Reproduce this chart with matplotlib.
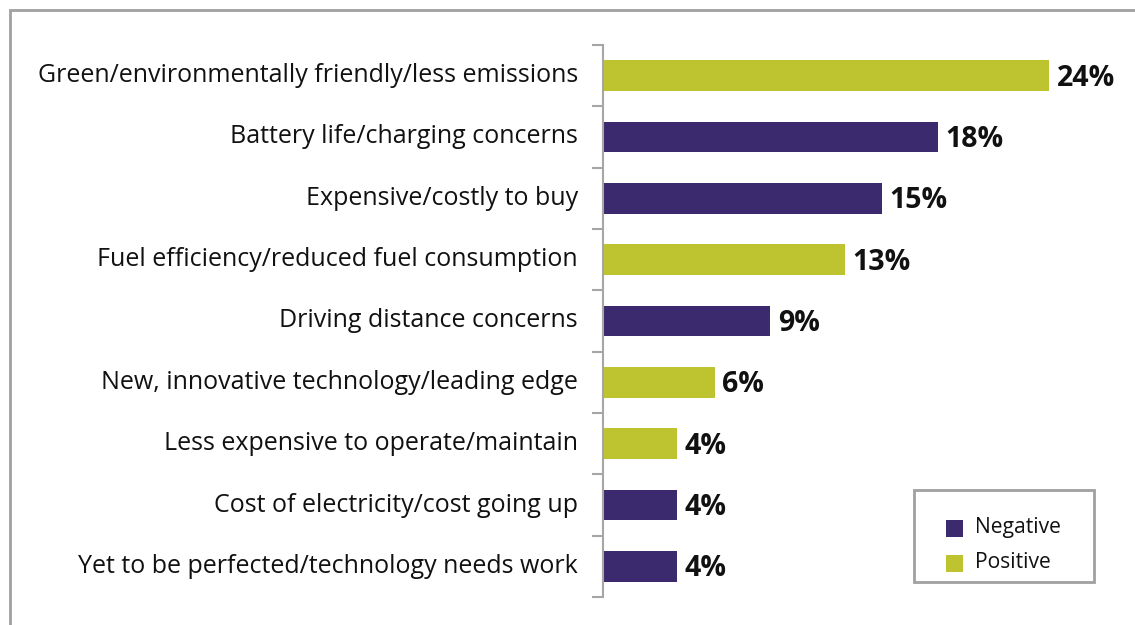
import matplotlib.pyplot as plt
from matplotlib.patches import Rectangle

categories = [
    "Green/environmentally friendly/less emissions",
    "Battery life/charging concerns",
    "Expensive/costly to buy",
    "Fuel efficiency/reduced fuel consumption",
    "Driving distance concerns",
    "New, innovative technology/leading edge",
    "Less expensive to operate/maintain",
    "Cost of electricity/cost going up",
    "Yet to be perfected/technology needs work",
]
values = [24, 18, 15, 13, 9, 6, 4, 4, 4]
sentiment = ["Positive", "Negative", "Negative", "Positive", "Negative",
             "Positive", "Positive", "Negative", "Negative"]
legend_labels = ["Negative", "Positive"]

colors = {"Negative": "#3b2a6d", "Positive": "#bec330"}
W, H = 1135, 625

plt.rcParams['font.family'] = ['Open Sans', 'DejaVu Sans']

fig = plt.figure(figsize=(W / 100, H / 100), dpi=100)
ax = fig.add_axes([603 / W, 1 - 597 / H, 1 - 603 / W, (597 - 45) / H])

n = len(categories)
ypos = list(range(n))
ax.barh(ypos, values, height=0.5, color=[colors[s] for s in sentiment])
ax.set_ylim(n - 0.5, -0.5)
ax.set_xlim(0, 28.6)

for y, v in zip(ypos, values):
    ax.text(v + 0.4, y + 0.04, f"{v}%", va="center", ha="left",
            fontsize=20.5, fontweight="bold", color="#111111")

# category labels sit between boundary ticks
ax.set_yticks([y - 0.5 for y in ypos] + [n - 0.5])
ax.set_yticklabels([])
ax.tick_params(axis="y", length=8, width=1.5, color="#a6a6a6", direction="out")
for y, c in zip(ypos, categories):
    ax.text(-1.35, y, c, ha="right", va="center", fontsize=18, color="#111111")

ax.set_xticks([])
for s in ["top", "right", "bottom"]:
    ax.spines[s].set_visible(False)
ax.spines["left"].set_color("#a6a6a6")
ax.spines["left"].set_linewidth(1.5)

# legend box, drawn by hand in pixel units
fig.patches.append(Rectangle((914 / W, 1 - 582 / H), 180 / W, 92 / H,
                             transform=fig.transFigure, fill=False,
                             edgecolor="#a0a0a0", linewidth=2))
for i, lab in enumerate(legend_labels):
    cy = 528 + 35 * i
    fig.patches.append(Rectangle((946 / W, 1 - (cy + 8.5) / H), 17 / W, 17 / H,
                                 transform=fig.transFigure,
                                 facecolor=colors[lab], edgecolor="none"))
    fig.text(975 / W, 1 - cy / H, lab, ha="left", va="center",
             fontsize=15.2, color="#111111")

# outer frame running off the right and bottom edges
fig.patches.append(Rectangle((10 / W, -0.1), 1.2, 1.1 - 10 / H,
                             transform=fig.transFigure, fill=False,
                             edgecolor="#a0a0a0", linewidth=2))

fig.savefig("out.png", dpi=100)
